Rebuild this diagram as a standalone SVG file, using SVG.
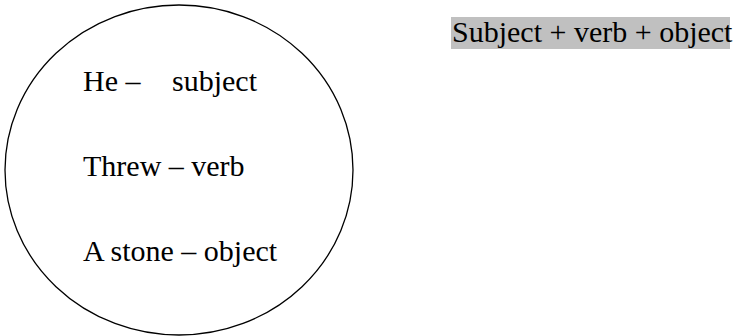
<svg xmlns="http://www.w3.org/2000/svg" width="733" height="336" viewBox="0 0 733 336">
<style>
.t{font-family:"Liberation Serif","Times New Roman",serif;font-size:30px;fill:#000}
</style>
<rect width="733" height="336" fill="#fff"/>
<g id="sentence-oval">
<ellipse cx="179" cy="170" rx="174" ry="165" fill="none" stroke="#000" stroke-width="1.3"/>
<text class="t" x="83" y="91">He –<tspan x="172">subject</tspan></text>
<text class="t" x="83" y="176">Threw – verb</text>
<text class="t" x="83" y="261">A stone – object</text>
</g>
<g id="formula">
<rect x="451" y="17" width="279" height="32" fill="#c0c0c0"/>
<text class="t" x="452" y="42">Subject + verb + object</text>
</g>
</svg>
